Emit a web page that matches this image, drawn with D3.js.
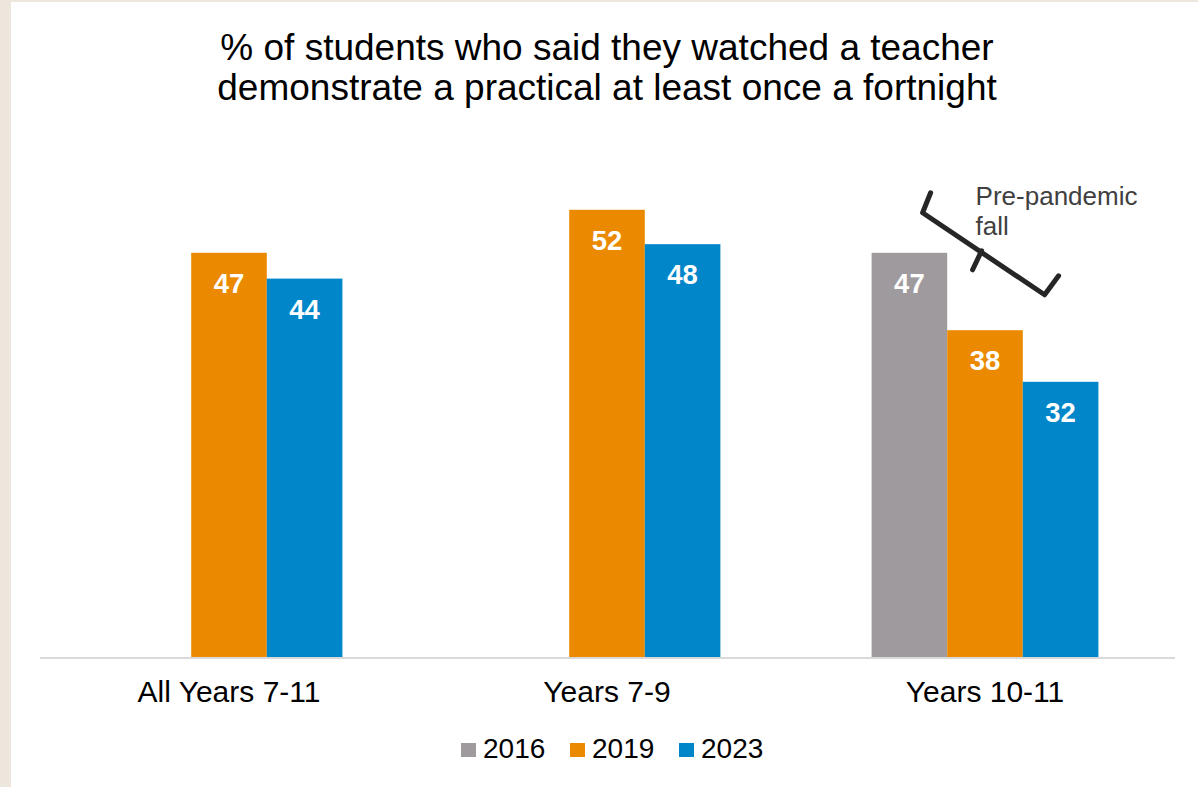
<!DOCTYPE html>
<html>
<head>
<meta charset="utf-8">
<script src="https://cdn.jsdelivr.net/npm/d3@7"></script>
<style>
  html, body { margin: 0; padding: 0; background: #ede6dd; }
  svg { display: block; }
  text { font-family: "Liberation Sans", Arial, sans-serif; }
</style>
</head>
<body>
<svg id="chart" width="1198" height="787"></svg>
<script>
// Chart data
const categories = ["All Years 7-11", "Years 7-9", "Years 10-11"];
const years = ["2016", "2019", "2023"];
const values2016 = [null, null, 47];
const values2019 = [47, 52, 38];
const values2023 = [44, 48, 32];
const seriesColors = ["#9f9a9d", "#eb8a00", "#0086c9"];
const titleLines = [
  "% of students who said they watched a teacher",
  "demonstrate a practical at least once a fortnight"
];
const annotationLines = ["Pre-pandemic", "fall"];

const seriesValues = [values2016, values2019, values2023];

const svg = d3.select("#chart");
const W = 1198, H = 787;

// white panel on the beige page
svg.append("rect").attr("x", 11).attr("y", 2).attr("width", W - 11).attr("height", H - 2).attr("fill", "#ffffff");

const x0 = d3.scaleBand().domain(categories).range([40, 1174]).paddingInner(0.4).paddingOuter(0.2);
const x1 = d3.scaleBand().domain(years).range([0, x0.bandwidth()]);
const y = d3.scaleLinear().domain([0, 60]).range([657, 141]);

// title
svg.append("g").selectAll("text").data(titleLines).join("text")
  .attr("x", 607).attr("y", (d, i) => 60 + i * 40)
  .attr("text-anchor", "middle").attr("font-size", 37).attr("fill", "#000")
  .text(d => d);

// bars
const rows = [];
categories.forEach((c, ci) => {
  years.forEach((yr, si) => {
    const v = seriesValues[si][ci];
    if (v != null) rows.push({ cat: c, year: yr, value: v, color: seriesColors[si] });
  });
});

const bars = svg.append("g");
bars.selectAll("rect").data(rows).join("rect")
  .attr("x", d => x0(d.cat) + x1(d.year))
  .attr("y", d => y(d.value))
  .attr("width", x1.bandwidth())
  .attr("height", d => y(0) - y(d.value))
  .attr("fill", d => d.color);

bars.selectAll("text").data(rows).join("text")
  .attr("x", d => x0(d.cat) + x1(d.year) + x1.bandwidth() / 2)
  .attr("y", d => y(d.value) + 40)
  .attr("text-anchor", "middle").attr("font-size", 27.5).attr("font-weight", "bold")
  .attr("fill", "#ffffff")
  .text(d => d.value);

// baseline
svg.append("line").attr("x1", 40).attr("x2", 1175).attr("y1", y(0) + 1).attr("y2", y(0) + 1)
  .attr("stroke", "#d9d9d9").attr("stroke-width", 2);

// category axis
const xAxis = d3.axisBottom(x0).tickSize(0).tickPadding(0);
const ax = svg.append("g").attr("transform", `translate(0,${y(0) + 45})`).call(xAxis);
ax.select(".domain").remove();
ax.selectAll("text").attr("font-size", 30).attr("fill", "#000").attr("dy", 0)
  .attr("font-family", "'Liberation Sans', Arial, sans-serif");

// legend
const legend = svg.append("g").attr("transform", "translate(461,750)");
const legendX = [0, 109, 218];
years.forEach((yr, i) => {
  const g = legend.append("g").attr("transform", `translate(${legendX[i]},0)`);
  g.append("rect").attr("x", 0).attr("y", -7).attr("width", 15).attr("height", 14).attr("fill", seriesColors[i]);
  g.append("text").attr("x", 22).attr("y", 8).attr("font-size", 28).attr("fill", "#000").text(yr);
});

// bracket annotation over the Years 10-11 bars
const bx = x0("Years 10-11") + x1("2016");
const by = y(values2016[2]);
const bracket = d3.line();
const bracketPath = [
  [bx + 59, by - 60], [bx + 51, by - 40], [bx + 173, by + 42], [bx + 187, by + 23]
];
const ann = svg.append("g");
ann.append("path").attr("d", bracket(bracketPath))
  .attr("fill", "none").attr("stroke", "#262626").attr("stroke-width", 5)
  .attr("stroke-linejoin", "round").attr("stroke-linecap", "round");
ann.append("path").attr("d", bracket([[bx + 110, by - 2], [bx + 101, by + 17]]))
  .attr("fill", "none").attr("stroke", "#262626").attr("stroke-width", 5)
  .attr("stroke-linecap", "round");
ann.selectAll("text").data(annotationLines).join("text")
  .attr("x", bx + 104).attr("y", (d, i) => by - 48 + i * 30)
  .attr("font-size", 26).attr("fill", "#404040")
  .text(d => d);
</script>
</body>
</html>
